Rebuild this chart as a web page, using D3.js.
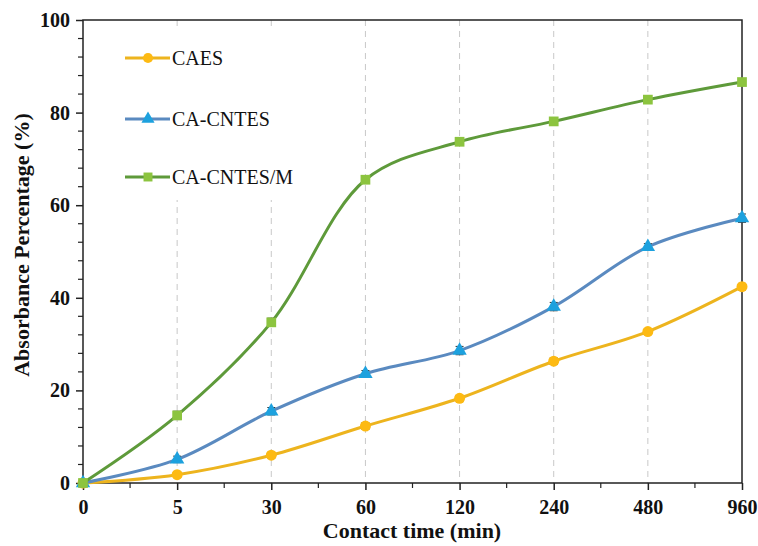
<!DOCTYPE html>
<html>
<head>
<meta charset="utf-8">
<script src="https://d3js.org/d3.v7.min.js"></script>
<style>
  body { margin: 0; background: #fff; }
  text { font-family: "Liberation Serif", "Times New Roman", serif; }
</style>
</head>
<body>
<svg id="chart" width="758" height="546"></svg>
<script>
  // x categories (contact time, min)
  var times = ["0", "5", "30", "60", "120", "240", "480", "960"];
  var yTicks = [0, 20, 40, 60, 80, 100];

  var seriesNames = ["CAES", "CA-CNTES", "CA-CNTES/M"];
  var caes      = [0, 1.8, 6.0, 12.3, 18.3, 26.3, 32.7, 42.4];
  var caCntes   = [0, 5.1, 15.5, 23.6, 28.6, 38.1, 51.0, 57.2];
  var caCntesM  = [0, 14.6, 34.7, 65.5, 73.7, 78.1, 82.8, 86.6];
  var caesErr     = [0, 0.6, 0.6, 0.7, 0.6, 0.7, 0.6, 0.7];
  var caCntesErr  = [0, 0.7, 0.8, 0.7, 0.9, 0.9, 0.7, 0.9];
  var caCntesMErr = [0, 0.9, 0.9, 0.7, 0.6, 0.6, 0.7, 0.6];

  var lineColors   = ["#EDB41E", "#5A8AC0", "#5E9A3A"];
  var markerColors = ["#FDBA13", "#1DA1DE", "#8CC43F"];
  var shapes = [d3.symbolCircle, d3.symbolTriangle, d3.symbolSquare];
  var values = [caes, caCntes, caCntesM];
  var errors = [caesErr, caCntesErr, caCntesMErr];

  var svg = d3.select("#chart");
  var plotL = 83, plotR = 742, plotT = 20, plotB = 483;

  var x = d3.scalePoint().domain(times).range([plotL, plotR]);
  var y = d3.scaleLinear().domain([0, 100]).range([plotB, plotT]);

  // dashed vertical grid
  svg.append("g").selectAll("line").data(times.slice(1, 7)).enter().append("line")
    .attr("x1", function(d){ return x(d); }).attr("x2", function(d){ return x(d); })
    .attr("y1", plotT).attr("y2", plotB)
    .attr("stroke", "#c8c8c8").attr("stroke-width", 1).attr("stroke-dasharray", "6,5");

  // legend background hides grid behind it
  svg.append("rect").attr("x", 105).attr("y", 30).attr("width", 200).attr("height", 170).attr("fill", "#fff");

  // frame
  svg.append("rect").attr("x", plotL).attr("y", plotT).attr("width", plotR - plotL).attr("height", plotB - plotT)
    .attr("fill", "none").attr("stroke", "#222").attr("stroke-width", 1.5);

  // y axis
  var yAxis = d3.axisLeft(y).tickValues(yTicks).tickSize(7).tickSizeOuter(0).tickPadding(6);
  var gy = svg.append("g").attr("transform", "translate(" + plotL + ",0)").call(yAxis);
  gy.select(".domain").remove();
  gy.selectAll("line").attr("stroke", "#222").attr("stroke-width", 1.5);
  gy.selectAll("text").attr("font-size", 20).attr("font-weight", "bold").attr("fill", "#111")
    .attr("font-family", "Liberation Serif");
  var yMinor = d3.range(0, 101, 4).filter(function(v){ return v % 20 !== 0; });
  svg.append("g").selectAll("line").data(yMinor).enter().append("line")
    .attr("x1", plotL - 5).attr("x2", plotL).attr("y1", function(d){ return y(d); }).attr("y2", function(d){ return y(d); })
    .attr("stroke", "#222").attr("stroke-width", 1.2);

  // x axis
  var xAxis = d3.axisBottom(x).tickSize(7).tickSizeOuter(0).tickPadding(10);
  var gx = svg.append("g").attr("transform", "translate(0," + plotB + ")").call(xAxis);
  gx.select(".domain").remove();
  gx.selectAll("line").attr("stroke", "#222").attr("stroke-width", 1.5);
  gx.selectAll("text").attr("font-size", 20).attr("font-weight", "bold").attr("fill", "#111")
    .attr("font-family", "Liberation Serif");
  var step = x.step();
  svg.append("g").selectAll("line").data(times.slice(0, 7)).enter().append("line")
    .attr("x1", function(d){ return x(d) + step / 2; }).attr("x2", function(d){ return x(d) + step / 2; })
    .attr("y1", plotB).attr("y2", plotB + 5)
    .attr("stroke", "#222").attr("stroke-width", 1.2);

  // axis titles
  svg.append("text").attr("x", 412).attr("y", 538).attr("text-anchor", "middle")
    .attr("font-size", 22).attr("font-weight", "bold").attr("fill", "#111").text("Contact time (min)");
  svg.append("text").attr("transform", "translate(29,245) rotate(-90)")
    .attr("text-anchor", "middle").attr("font-size", 22).attr("font-weight", "bold").attr("fill", "#111")
    .text("Absorbance Percentage (%)");

  // series
  var line = d3.line()
    .x(function(d, i){ return x(times[i]); })
    .y(function(d){ return y(d); })
    .curve(d3.curveCatmullRom.alpha(0.5));

  values.forEach(function(vals, s){
    var g = svg.append("g");
    g.append("path").datum(vals).attr("d", line).attr("fill", "none")
      .attr("stroke", lineColors[s]).attr("stroke-width", 3);
    // error bars
    g.selectAll("g.err").data(vals).enter().append("g").attr("class", "err").each(function(d, i){
      var e = errors[s][i];
      if (!e) return;
      var cx = x(times[i]);
      var sel = d3.select(this);
      sel.append("line").attr("x1", cx).attr("x2", cx).attr("y1", y(d + e)).attr("y2", y(d - e))
        .attr("stroke", "#333").attr("stroke-width", 1);
      sel.append("line").attr("x1", cx - 4).attr("x2", cx + 4).attr("y1", y(d + e)).attr("y2", y(d + e))
        .attr("stroke", "#333").attr("stroke-width", 1);
      sel.append("line").attr("x1", cx - 4).attr("x2", cx + 4).attr("y1", y(d - e)).attr("y2", y(d - e))
        .attr("stroke", "#333").attr("stroke-width", 1);
    });
    g.selectAll("path.mk").data(vals).enter().append("path").attr("class", "mk")
      .attr("transform", function(d, i){ return "translate(" + x(times[i]) + "," + y(d) + ")"; })
      .attr("d", d3.symbol().type(shapes[s]).size(s === 1 ? 90 : 95))
      .attr("fill", markerColors[s]);
  });

  // legend
  var legendY = [58, 119, 177];
  seriesNames.forEach(function(name, s){
    var lg = svg.append("g").attr("transform", "translate(0," + legendY[s] + ")");
    lg.append("line").attr("x1", 125).attr("x2", 170).attr("y1", 0).attr("y2", 0)
      .attr("stroke", lineColors[s]).attr("stroke-width", 3);
    lg.append("path").attr("transform", "translate(148,0)")
      .attr("d", d3.symbol().type(shapes[s]).size(s === 1 ? 75 : 80)).attr("fill", markerColors[s]);
    lg.append("text").attr("x", 172).attr("y", 7).attr("font-size", 20).attr("fill", "#111").text(name);
  });
</script>
</body>
</html>
